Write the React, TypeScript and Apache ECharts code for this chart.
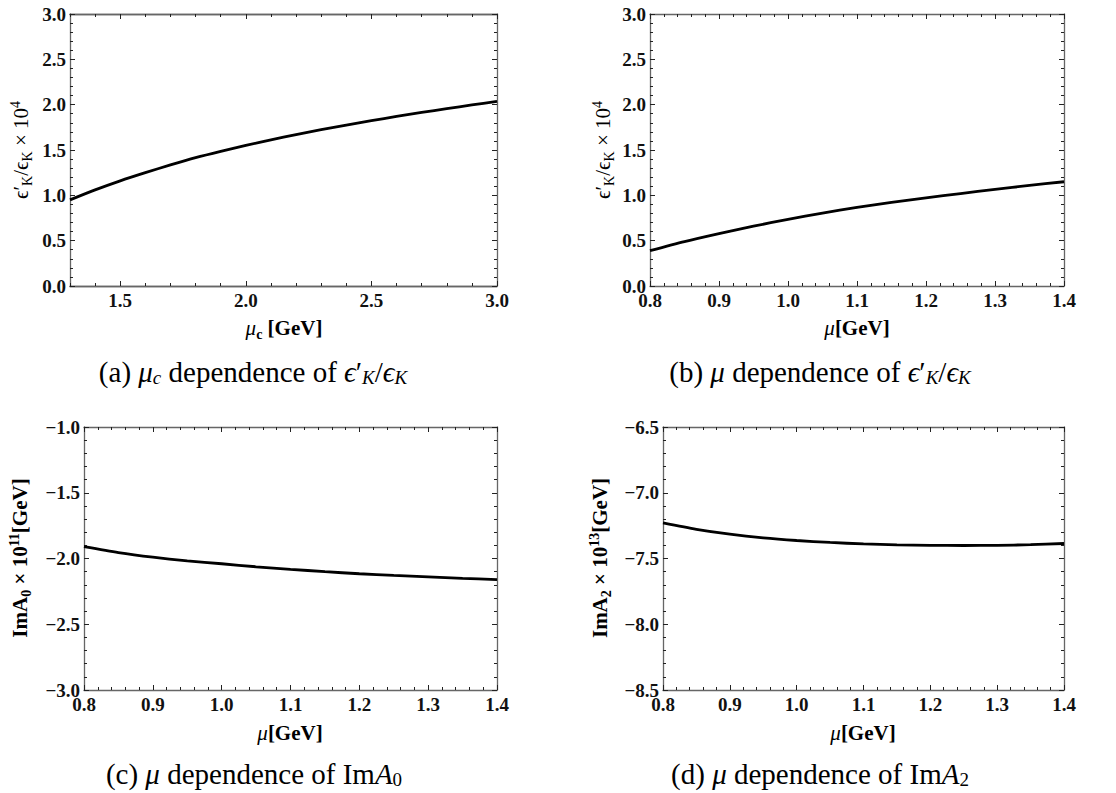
import React, { useEffect, useRef } from "react";
import * as echarts from "echarts";

// ---------- data ----------
const muC = [1.3, 1.4, 1.5, 1.6, 1.7, 1.8, 1.9, 2.0, 2.1, 2.2, 2.3, 2.4, 2.5, 2.6, 2.7, 2.8, 2.9, 3.0];
const epsMuC = [0.95, 1.06, 1.16, 1.25, 1.335, 1.415, 1.485, 1.55, 1.612, 1.67, 1.724, 1.775, 1.824, 1.87, 1.914, 1.956, 1.997, 2.037];

const mu = [0.8, 0.85, 0.9, 0.95, 1.0, 1.05, 1.1, 1.15, 1.2, 1.25, 1.3, 1.35, 1.4];
const epsMu = [0.39, 0.49, 0.578, 0.66, 0.735, 0.805, 0.867, 0.922, 0.972, 1.02, 1.066, 1.109, 1.15];
const imA0 = [-1.91, -1.955, -1.99, -2.018, -2.04, -2.063, -2.082, -2.1, -2.116, -2.129, -2.14, -2.151, -2.16];
const imA2 = [-7.23, -7.278, -7.315, -7.343, -7.363, -7.378, -7.389, -7.396, -7.4, -7.401, -7.4, -7.395, -7.386];

const muCMajorTicks = [1.5, 2.0, 2.5, 3.0];

const FONT = "'Liberation Serif', 'DejaVu Serif', serif";

const fmt = (v: number) => {
  const s = Math.abs(v).toFixed(1);
  return v < -1e-9 ? "\u2212" + s : s;
};

const labelStyle = (show: boolean, margin: number) => ({
  show,
  margin,
  color: "#111",
  fontFamily: FONT,
  fontWeight: "bold",
  fontSize: 19,
  formatter: fmt,
});

function axis(opts: any) {
  const {
    gridIndex, position, min, max, interval, minorSplit, showLabel, tickLen = 5,
    customValues, margin = 5,
  } = opts;
  const a: any = {
    type: "value",
    gridIndex,
    position,
    min,
    max,
    axisLine: { show: true, onZero: false, lineStyle: { color: "#666", width: 1.3 } },
    axisTick: { show: true, inside: true, length: tickLen, lineStyle: { color: "#222", width: 1 } },
    minorTick: { show: !!minorSplit, splitNumber: minorSplit || 5, length: 3, lineStyle: { color: "#222", width: 1 } },
    axisLabel: labelStyle(showLabel, margin),
    splitLine: { show: false },
    minorSplitLine: { show: false },
  };
  if (interval !== undefined) a.interval = interval;
  if (customValues) {
    a.axisTick.customValues = customValues;
    a.axisLabel.customValues = customValues;
  }
  return a;
}

const grids = [
  { left: 70, top: 14, width: 427, height: 272 },
  { left: 650, top: 14, width: 414, height: 272 },
  { left: 84, top: 427, width: 413, height: 263 },
  { left: 663, top: 427, width: 401, height: 263 },
];

export default function App() {
  const ref = useRef<HTMLDivElement>(null);
  useEffect(() => {
    if (!ref.current) return;
    const chart = echarts.init(ref.current, null, { renderer: "svg" });

    const xAxes: any[] = [];
    const yAxes: any[] = [];
    const series: any[] = [];

    const panels = [
      { x: muC, y: epsMuC, xMin: 1.3, xMax: 3.0, yMin: 0, yMax: 3, muc: true },
      { x: mu, y: epsMu, xMin: 0.8, xMax: 1.4, yMin: 0, yMax: 3 },
      { x: mu, y: imA0, xMin: 0.8, xMax: 1.4, yMin: -3, yMax: -1 },
      { x: mu, y: imA2, xMin: 0.8, xMax: 1.4, yMin: -8.5, yMax: -6.5 },
    ];

    panels.forEach((p, g) => {
      let xi: number;
      if (p.muc) {
        xi = xAxes.length;
        xAxes.push(axis({ gridIndex: g, position: "bottom", min: p.xMin, max: p.xMax, customValues: muCMajorTicks, showLabel: true, tickLen: 5, margin: 5 }));
        xAxes.push(axis({ gridIndex: g, position: "bottom", min: p.xMin, max: p.xMax, interval: 0.1, showLabel: false, tickLen: 3 }));
        xAxes.push(axis({ gridIndex: g, position: "top", min: p.xMin, max: p.xMax, customValues: muCMajorTicks, showLabel: false, tickLen: 5 }));
        xAxes.push(axis({ gridIndex: g, position: "top", min: p.xMin, max: p.xMax, interval: 0.1, showLabel: false, tickLen: 3 }));
      } else {
        xi = xAxes.length;
        xAxes.push(axis({ gridIndex: g, position: "bottom", min: p.xMin, max: p.xMax, interval: 0.1, minorSplit: 5, showLabel: true, margin: 5 }));
        xAxes.push(axis({ gridIndex: g, position: "top", min: p.xMin, max: p.xMax, interval: 0.1, minorSplit: 5, showLabel: false }));
      }
      const yi = yAxes.length;
      yAxes.push(axis({ gridIndex: g, position: "left", min: p.yMin, max: p.yMax, interval: 0.5, minorSplit: 5, showLabel: true, margin: 4 }));
      yAxes.push(axis({ gridIndex: g, position: "right", min: p.yMin, max: p.yMax, interval: 0.5, minorSplit: 5, showLabel: false }));

      series.push({
        type: "line",
        xAxisIndex: xi,
        yAxisIndex: yi,
        data: p.x.map((v, i) => [v, p.y[i]]),
        showSymbol: false,
        symbol: "none",
        smooth: 0.25,
        lineStyle: { color: "#000", width: 2.8 },
        z: 5,
      });
    });

    const rich = {
      n: { fontFamily: FONT, fontSize: 21, lineHeight: 26, color: "#111" },
      b: { fontFamily: FONT, fontSize: 21, fontWeight: "bold", lineHeight: 26, color: "#111" },
      mi: { fontFamily: FONT, fontSize: 21, fontStyle: "italic", lineHeight: 26, color: "#111" },
      s: { fontFamily: FONT, fontSize: 14, lineHeight: 14, verticalAlign: "bottom", color: "#111" },
      bs: { fontFamily: FONT, fontSize: 14, fontWeight: "bold", lineHeight: 14, verticalAlign: "bottom", color: "#111" },
      u: { fontFamily: FONT, fontSize: 14, lineHeight: 14, verticalAlign: "top", color: "#111" },
      bu: { fontFamily: FONT, fontSize: 14, fontWeight: "bold", lineHeight: 14, verticalAlign: "top", color: "#111" },
    };

    const capRich = {
      n: { fontFamily: FONT, fontSize: 29, lineHeight: 30, color: "#000" },
      mi: { fontFamily: FONT, fontSize: 29, fontStyle: "italic", lineHeight: 30, color: "#000" },
      is: { fontFamily: FONT, fontSize: 19, fontStyle: "italic", lineHeight: 16, verticalAlign: "bottom", color: "#000" },
      s: { fontFamily: FONT, fontSize: 19, lineHeight: 16, verticalAlign: "bottom", color: "#000" },
    };

    const txt = (x: number, y: number, text: string, r: any, rot = 0) => ({
      type: "text",
      x,
      y,
      rotation: rot,
      style: { text, rich: r, align: "center", verticalAlign: "middle" },
      z: 10,
    });

    const epsTitle = "{n|\u03F5}{n|\u2032}{s|K}{n|/\u03F5}{s|K}{n| \u00D7 10}{u|4}";
    const graphic = [
      txt(21, 150, epsTitle, rich, Math.PI / 2),
      txt(603, 150, epsTitle, rich, Math.PI / 2),
      txt(20, 558, "{b|ImA}{bs|0}{b| \u00D7 10}{bu|11}{b|[GeV]}", rich, Math.PI / 2),
      txt(600, 558, "{b|ImA}{bs|2}{b| \u00D7 10}{bu|13}{b|[GeV]}", rich, Math.PI / 2),
      txt(284, 328, "{mi|\u03BC}{bs|c}{b| [GeV]}", rich),
      txt(857, 328, "{mi|\u03BC}{b|[GeV]}", rich),
      txt(290, 733, "{mi|\u03BC}{b|[GeV]}", rich),
      txt(863, 733, "{mi|\u03BC}{b|[GeV]}", rich),
      txt(253, 372, "{n|(a) }{mi|\u03BC}{is|c}{n| dependence of }{mi|\u03F5}{n|\u2032}{is|K}{n|/}{mi|\u03F5}{is|K}", capRich),
      txt(820, 372, "{n|(b) }{mi|\u03BC}{n| dependence of }{mi|\u03F5}{n|\u2032}{is|K}{n|/}{mi|\u03F5}{is|K}", capRich),
      txt(254, 774, "{n|(c) }{mi|\u03BC}{n| dependence of Im}{mi|A}{s|0}", capRich),
      txt(820, 774, "{n|(d) }{mi|\u03BC}{n| dependence of Im}{mi|A}{s|2}", capRich),
    ];

    chart.setOption({
      animation: false,
      backgroundColor: "#fff",
      grid: grids.map((g) => ({ ...g, containLabel: false, outerBoundsMode: "none" })),
      xAxis: xAxes,
      yAxis: yAxes,
      series,
      graphic,
    });
    return () => chart.dispose();
  }, []);

  return (
    <div
      ref={ref}
      style={{ position: "fixed", left: 0, top: 0, width: 1116, height: 793, background: "#fff" }}
    />
  );
}
